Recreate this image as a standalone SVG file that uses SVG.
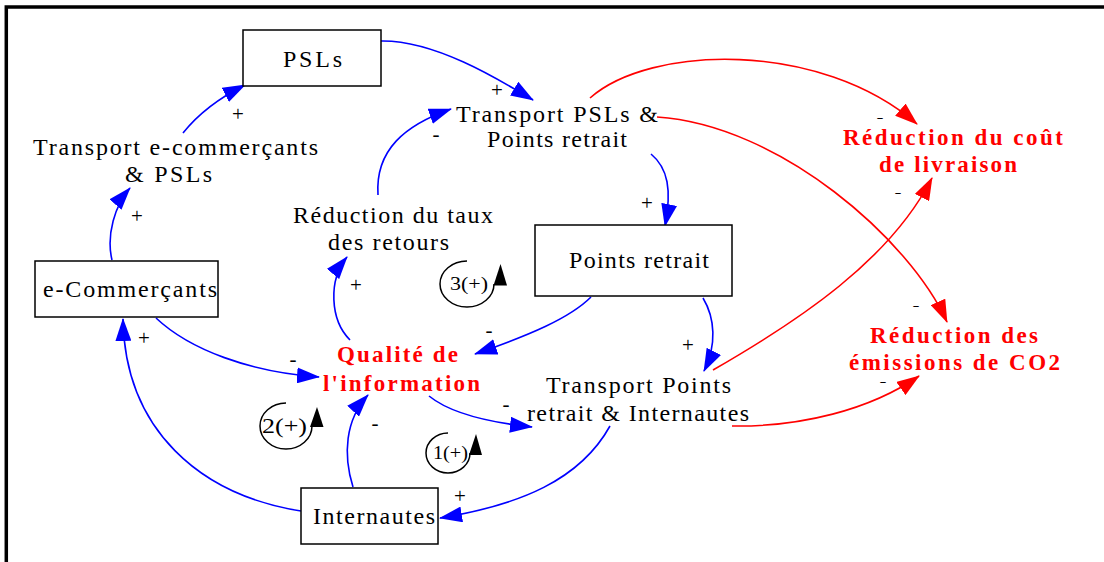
<svg xmlns="http://www.w3.org/2000/svg" width="1104" height="562" viewBox="0 0 1104 562">
<style>
.box{fill:#fff;stroke:#000;stroke-width:1.5}
.t{font-family:"Liberation Serif","Times New Roman",serif;font-size:24px;fill:#000;text-anchor:middle}
.r{font-family:"Liberation Serif","Times New Roman",serif;font-size:23px;font-weight:bold;fill:#f00;text-anchor:middle}
.s{font-family:"Liberation Serif","Times New Roman",serif;font-size:21px;fill:#000;text-anchor:middle}
.d{font-family:"Liberation Serif","Times New Roman",serif;font-size:13px;fill:#000;text-anchor:middle}
.lp{font-family:"Liberation Serif","Times New Roman",serif;fill:#000;text-anchor:middle}
.b{fill:none;stroke:#00f;stroke-width:1.6;marker-end:url(#ab)}
.rd{fill:none;stroke:#f00;stroke-width:1.6;marker-end:url(#ar)}
.loop{fill:none;stroke:#000;stroke-width:1.5}
</style>
<defs>
<marker id="ab" viewBox="0 0 23 16" refX="22" refY="8" markerWidth="23" markerHeight="16" markerUnits="userSpaceOnUse" orient="auto"><path d="M0,0 L23,8 L0,16 z" fill="#00f"/></marker>
<marker id="ar" viewBox="0 0 23 16" refX="22" refY="8" markerWidth="23" markerHeight="16" markerUnits="userSpaceOnUse" orient="auto"><path d="M0,0 L23,8 L0,16 z" fill="#f00"/></marker>
</defs>
<rect width="1104" height="562" fill="#fff"/>
<path d="M6.3,562 V7 H1104" fill="none" stroke="#000" stroke-width="3.5"/>

<g id="connectors">
<path class="b" d="M381,41 C435,40 500,80 533,100"/>
<path class="b" d="M183,133 C195,118 215,100 245,85"/>
<path class="b" d="M112,260 C106,235 115,205 130,188"/>
<path class="b" d="M301,511 C200,495 125,430 123,319"/>
<path class="b" d="M156,318 C190,350 250,372 319,377"/>
<path class="b" d="M353,487 C343,455 345,420 368,395"/>
<path class="b" d="M350,340 C330,320 328,280 347,257"/>
<path class="b" d="M378,195 C375,150 405,125 451,109"/>
<path class="b" d="M651,154 C668,168 672,190 665,226"/>
<path class="b" d="M591,297 C570,318 530,335 475,354"/>
<path class="b" d="M703,298 C715,318 717,345 704,371"/>
<path class="b" d="M429,396 C450,413 485,422 532,427"/>
<path class="b" d="M610,426 C580,480 520,505 440,518"/>
<path class="rd" d="M590,98 C650,45 820,40 917,124"/>
<path class="rd" d="M657,117 C780,125 910,240 947,322"/>
<path class="rd" d="M713,370 C800,320 890,260 932,178"/>
<path class="rd" d="M732,426 C800,427 870,410 919,376"/>
<g id="signs">
<text class="s" x="497" y="97">+</text>
<text class="s" x="238" y="121">+</text>
<text class="s" x="137" y="223">+</text>
<text class="s" x="144" y="345">+</text>
<text class="s" x="293" y="366">-</text>
<text class="s" x="375" y="430">-</text>
<text class="s" x="356" y="292">+</text>
<text class="s" x="436" y="141">-</text>
<text class="s" x="647" y="210">+</text>
<text class="s" x="489" y="337">-</text>
<text class="s" x="688" y="352">+</text>
<text class="s" x="506" y="411">-</text>
<text class="s" x="460" y="503">+</text>
<text class="d" x="880" y="122" textLength="7" lengthAdjust="spacingAndGlyphs">-</text>
<text class="d" x="898" y="197" textLength="7" lengthAdjust="spacingAndGlyphs">-</text>
<text class="d" x="916" y="310" textLength="7" lengthAdjust="spacingAndGlyphs">-</text>
<text class="d" x="883" y="386" textLength="7" lengthAdjust="spacingAndGlyphs">-</text>
</g>
</g>

<g id="loops">
<g id="loop3">
<path class="loop" d="M467,261 A27,23 0 1 0 494,284"/>
<polygon points="500.5,264 493.5,285.5 507,285.5" fill="#000"/>
<text class="lp" x="469" y="290" font-size="18" textLength="38" lengthAdjust="spacingAndGlyphs">3(+)</text>
</g>
<g id="loop2">
<path class="loop" d="M286,403 A26,23 0 1 0 312,426"/>
<polygon points="317,407 310,427 323.5,427" fill="#000"/>
<text class="lp" x="284.5" y="433" font-size="22" textLength="45" lengthAdjust="spacingAndGlyphs">2(+)</text>
</g>
<g id="loop1">
<path class="loop" d="M448,433 A22,20 0 1 0 470,453"/>
<polygon points="476,434 469,455 482,455" fill="#000"/>
<text class="lp" x="450.5" y="459" font-size="18" textLength="35" lengthAdjust="spacingAndGlyphs">1(+)</text>
</g>
</g>

<g id="node-psls">
<rect class="box" x="243" y="30" width="138" height="56"/>
<text class="t" x="312.5" y="67" textLength="59">PSLs</text>
</g>
<g id="node-transport-ecom-psls">
<text class="t" x="175.5" y="155" textLength="285">Transport e-commerçants</text>
<text class="t" x="168.5" y="182" textLength="87">&amp; PSLs</text>
</g>
<g id="node-transport-psls-points">
<text class="t" x="557" y="122" textLength="202">Transport PSLs &amp;</text>
<text class="t" x="557" y="147" textLength="140">Points retrait</text>
</g>
<g id="node-reduction-cout">
<text class="r" x="953" y="145" textLength="220">Réduction du coût</text>
<text class="r" x="948" y="172" textLength="138">de livraison</text>
</g>
<g id="node-reduction-retours">
<text class="t" x="393" y="223" textLength="200">Réduction du taux</text>
<text class="t" x="388.5" y="250" textLength="121">des retours</text>
</g>
<g id="node-points-retrait">
<rect class="box" x="535" y="225" width="197" height="71"/>
<text class="t" x="639" y="268" textLength="140">Points retrait</text>
</g>
<g id="node-ecommercants">
<rect class="box" x="35" y="261" width="183" height="56"/>
<text class="t" x="130" y="297" textLength="174">e-Commerçants</text>
</g>
<g id="node-qualite">
<text class="r" x="397.5" y="362" textLength="121">Qualité de</text>
<text class="r" x="401.5" y="391" textLength="157">l'information</text>
</g>
<g id="node-transport-points-internautes">
<text class="t" x="638.5" y="393" textLength="185">Transport Points</text>
<text class="t" x="638" y="421" textLength="222">retrait &amp; Internautes</text>
</g>
<g id="node-reduction-co2">
<text class="r" x="954" y="343" textLength="168">Réduction des</text>
<text class="r" x="954.5" y="370" textLength="211">émissions de CO2</text>
</g>
<g id="node-internautes">
<rect class="box" x="301" y="488" width="137" height="56"/>
<text class="t" x="374" y="524" textLength="122">Internautes</text>
</g>
</svg>
